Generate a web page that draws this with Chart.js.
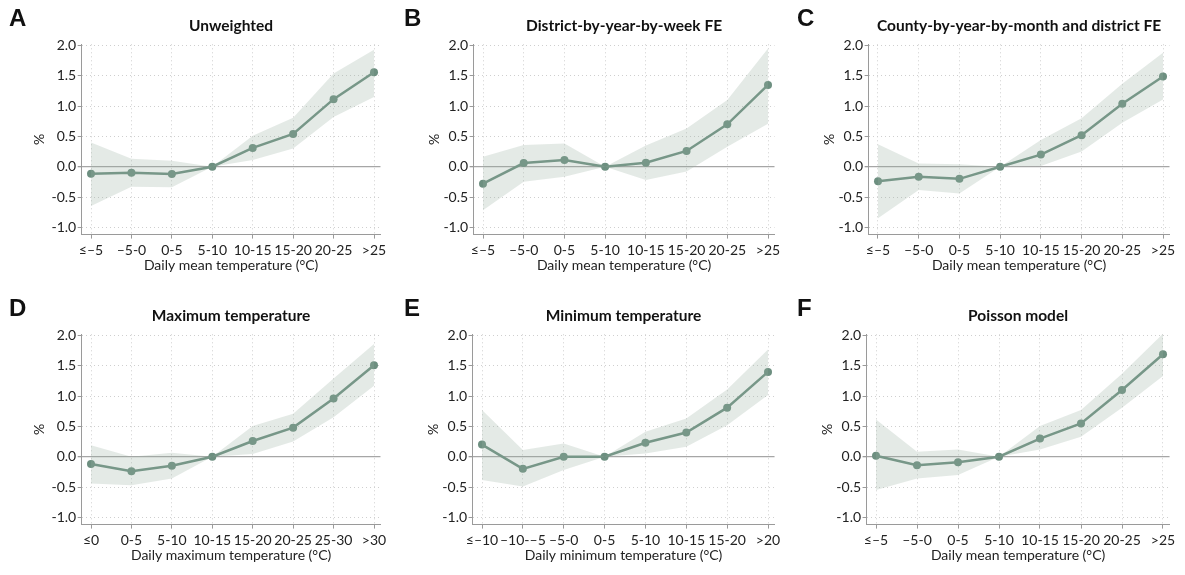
<!DOCTYPE html>
<html>
<head>
  <title>Temperature response</title>
  <script src="https://cdn.jsdelivr.net/npm/chart.js"></script>
  <style>
    body { margin: 0; background: #fff; font-family: Lato, sans-serif; color: #222; }
    #wrap { position: relative; width: 1185px; height: 575px; overflow: hidden; }
    canvas { position: absolute; }
    .letter { position: absolute; font: bold 24px "Liberation Sans", Arial, sans-serif; line-height: 24px; color: #111; }
    .title { position: absolute; width: 400px; font: bold 15.5px Lato, sans-serif; line-height: 18px; text-align: center; white-space: nowrap; color: #111; }
  </style>
</head>
<body>
<div id="wrap"></div>
<script>
// category labels
const meanLabels = ["≤–5", "–5-0", "0-5", "5-10", "10-15", "15-20", "20-25", ">25"];
const maxLabels  = ["≤0", "0-5", "5-10", "10-15", "15-20", "20-25", "25-30", ">30"];
const minLabels  = ["≤–10", "–10-–5", "–5-0", "0-5", "5-10", "10-15", "15-20", ">20"];

// estimates (%) and 95% band
const estA = [-0.115, -0.10, -0.12, 0, 0.31, 0.54, 1.115, 1.56];
const hiA  = [0.40, 0.13, 0.10, 0, 0.51, 0.81, 1.54, 1.93];
const loA  = [-0.65, -0.33, -0.34, 0, 0.11, 0.30, 0.82, 1.15];

const estB = [-0.28, 0.06, 0.11, 0, 0.066, 0.26, 0.70, 1.35];
const hiB  = [0.165, 0.36, 0.385, 0, 0.35, 0.63, 1.10, 1.95];
const loB  = [-0.72, -0.25, -0.165, 0, -0.22, -0.08, 0.33, 0.71];

const estC = [-0.24, -0.165, -0.20, 0, 0.20, 0.52, 1.04, 1.49];
const hiC  = [0.37, 0.055, 0.04, 0, 0.44, 0.80, 1.37, 1.88];
const loC  = [-0.85, -0.385, -0.44, 0, 0.01, 0.25, 0.725, 1.11];

const estD = [-0.12, -0.24, -0.15, 0, 0.26, 0.48, 0.96, 1.51];
const hiD  = [0.19, 0.0, 0.066, 0, 0.505, 0.71, 1.29, 1.86];
const loD  = [-0.44, -0.47, -0.36, 0, 0.044, 0.25, 0.65, 1.17];

const estE = [0.20, -0.20, 0.0, 0, 0.23, 0.40, 0.81, 1.40];
const hiE  = [0.77, 0.11, 0.22, 0, 0.41, 0.63, 1.11, 1.77];
const loE  = [-0.385, -0.49, -0.22, 0, 0.055, 0.165, 0.52, 1.02];

const estF = [0.016, -0.14, -0.09, 0, 0.30, 0.55, 1.10, 1.69];
const hiF  = [0.615, 0.08, 0.12, 0, 0.505, 0.77, 1.37, 2.03];
const loF  = [-0.55, -0.36, -0.30, 0, 0.12, 0.33, 0.81, 1.33];

const panelLetters = ["A", "B", "C", "D", "E", "F"];
const panelTitles = ["Unweighted", "District-by-year-by-week FE", "County-by-year-by-month and district FE",
                     "Maximum temperature", "Minimum temperature", "Poisson model"];
const xTitles = ["Daily mean temperature (°C)", "Daily mean temperature (°C)", "Daily mean temperature (°C)",
                 "Daily maximum temperature (°C)", "Daily minimum temperature (°C)", "Daily mean temperature (°C)"];

const panels = [
  { labels: meanLabels, est: estA, hi: hiA, lo: loA },
  { labels: meanLabels, est: estB, hi: hiB, lo: loB },
  { labels: meanLabels, est: estC, hi: hiC, lo: loC },
  { labels: maxLabels,  est: estD, hi: hiD, lo: loD },
  { labels: minLabels,  est: estE, hi: hiE, lo: loE },
  { labels: meanLabels, est: estF, hi: hiF, lo: loF }
];

// page layout (pixels)
const colLeft = [0, 392, 785], colWidth = [392, 393, 400];
const rowTop = [0, 290];
const H = 285;
const plotTop = 44.3, plotBottom = 234.6;
const placement = [
  { col: 0, row: 0, first: 91,  last: 374,  pct: 39 },
  { col: 1, row: 0, first: 483, last: 768,  pct: 42 },
  { col: 2, row: 0, first: 878, last: 1163, pct: 44 },
  { col: 0, row: 1, first: 91,  last: 374,  pct: 39 },
  { col: 1, row: 1, first: 482, last: 768,  pct: 41 },
  { col: 2, row: 1, first: 876, last: 1163, pct: 42 }
];
const xMin = -0.23, xMax = 7.16, yMin = -1.12, yMax = 2.02;

const lineColor = '#6d8f80';
const bandColor = 'rgba(150,172,160,0.26)';
const gridColor = '#cfcfcf';
const zeroColor = '#a6a6a6';
const axisColor = '#9a9a9a';
const textColor = '#222';
const font14 = { family: 'Lato', size: 14 };

const wrap = document.getElementById('wrap');

panels.forEach((p, k) => {
  const L = placement[k];
  const left = colLeft[L.col], top = rowTop[L.row], width = colWidth[L.col];
  const unit = (L.last - L.first) / 7;
  const axisX = L.first + xMin * unit;
  const plotRight = L.first + xMax * unit;

  const canvas = document.createElement('canvas');
  canvas.width = width;
  canvas.height = H;
  canvas.style.left = left + 'px';
  canvas.style.top = top + 'px';
  wrap.appendChild(canvas);

  const letter = document.createElement('div');
  letter.className = 'letter';
  letter.textContent = panelLetters[k];
  letter.style.left = (left + (L.col === 0 ? 9 : 12)) + 'px';
  letter.style.top = (top + 6) + 'px';
  wrap.appendChild(letter);

  const title = document.createElement('div');
  title.className = 'title';
  title.textContent = panelTitles[k];
  title.style.left = ((axisX + plotRight) / 2 - 200) + 'px';
  title.style.top = (top + 16) + 'px';
  wrap.appendChild(title);

  const pts = arr => arr.map((y, i) => ({ x: i, y: y }));

  new Chart(canvas, {
    type: 'line',
    data: {
      datasets: [
        { data: pts(p.hi), borderWidth: 0, pointRadius: 0, fill: '+1', backgroundColor: bandColor },
        { data: pts(p.lo), borderWidth: 0, pointRadius: 0, fill: false },
        { data: pts(p.est), borderColor: lineColor, borderWidth: 2.5, pointRadius: 4,
          pointBackgroundColor: lineColor, pointBorderWidth: 0, fill: false, tension: 0 }
      ]
    },
    options: {
      responsive: false,
      animation: false,
      devicePixelRatio: 1,
      events: [],
      layout: { autoPadding: false, padding: { left: 0, top: plotTop, right: left + width - plotRight, bottom: 0 } },
      plugins: { legend: { display: false }, tooltip: { enabled: false } },
      scales: {
        x: {
          type: 'linear', min: xMin, max: xMax,
          afterFit: s => { s.height = H - plotBottom; },
          ticks: { stepSize: 1, includeBounds: false, autoSkip: false, maxRotation: 0, padding: 3,
                   color: textColor, font: font14, callback: v => p.labels[v] },
          grid: { color: gridColor, tickColor: axisColor, tickLength: 4, tickBorderDash: [] },
          border: { color: axisColor, dash: [1, 3] },
          title: { display: true, text: xTitles[k], color: textColor, font: font14, padding: { top: 0, bottom: 11.6 } }
        },
        y: {
          min: yMin, max: yMax,
          afterFit: s => { s.width = axisX - left; },
          ticks: { stepSize: 0.5, includeBounds: false, padding: 1.5, color: textColor, font: font14,
                   callback: v => v.toFixed(1) },
          grid: {
            color: c => (c.tick && c.tick.value === 0) ? zeroColor : gridColor,
            lineWidth: c => (c.tick && c.tick.value === 0) ? 1.3 : 1,
            tickColor: axisColor, tickLength: 4, tickBorderDash: []
          },
          border: { color: axisColor, dash: c => (c.tick && c.tick.value === 0) ? [] : [1, 3] },
          title: { display: true, text: '%', color: textColor, font: font14, padding: { top: L.pct - 8.4, bottom: 0 } }
        }
      }
    }
  });
});
</script>
</body>
</html>
